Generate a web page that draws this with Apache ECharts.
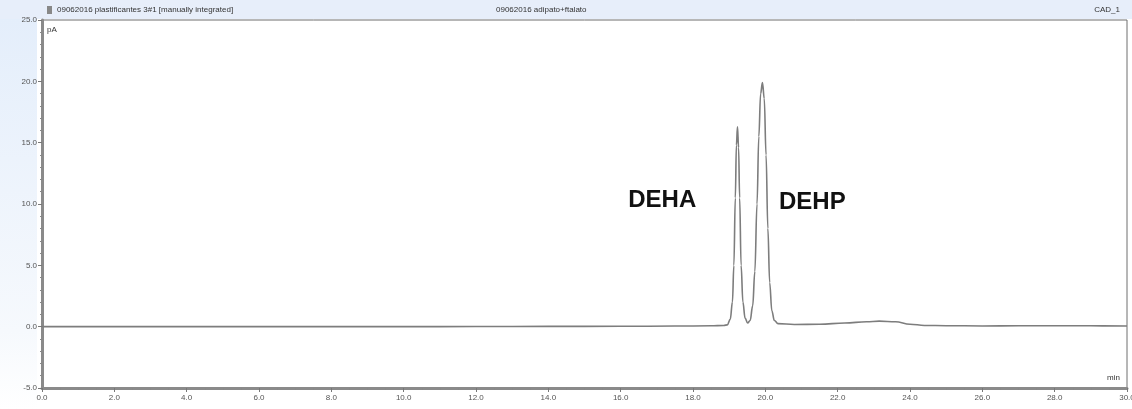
<!DOCTYPE html>
<html>
<head>
<meta charset="utf-8">
<script src="https://cdn.jsdelivr.net/npm/echarts@6/dist/echarts.min.js"></script>
<style>
html,body{margin:0;padding:0;background:#fff;}
#c{width:1132px;height:409px;}
</style>
</head>
<body>
<div id="c"></div>
<script>
// retention time (min)
var times = [0, 2, 4, 6, 8, 10, 12, 14, 16, 17.5, 18.5, 18.85, 18.95, 19.03, 19.09, 19.13, 19.17, 19.20, 19.23, 19.26, 19.29, 19.33, 19.38, 19.44, 19.51, 19.58, 19.65, 19.71, 19.77, 19.82, 19.87, 19.92, 19.97, 20.02, 20.07, 20.12, 20.18, 20.25, 20.35, 20.8, 21.5, 22.2, 22.8, 23.15, 23.6, 24.0, 24.4, 25, 26, 27, 28, 29, 30];
// signal (pA)
var signal = [0.0, 0.0, 0.0, 0.0, 0.0, 0.0, 0.01, 0.02, 0.03, 0.05, 0.07, 0.1, 0.15, 0.6, 2.0, 5.0, 10.5, 14.8, 16.3, 14.6, 10.5, 5.0, 2.0, 0.7, 0.3, 0.5, 1.7, 4.5, 10.0, 15.5, 19.0, 19.9, 18.6, 14.0, 8.0, 3.6, 1.3, 0.5, 0.25, 0.18, 0.2, 0.3, 0.4, 0.45, 0.4, 0.2, 0.1, 0.08, 0.06, 0.07, 0.08, 0.07, 0.05];
var peakNames = ['DEHA', 'DEHP'];
var peakLabelPos = [[17.15, 10.3], [21.3, 10.1]];
var headerLeft = '09062016 plastificantes 3#1 [manually integrated]';
var headerMid = '09062016 adipato+ftalato';
var headerRight = 'CAD_1';
var yUnit = 'pA';
var xUnit = 'min';

var data = times.map(function (t, i) { return [t, signal[i]]; });
var chart = echarts.init(document.getElementById('c'), null, {renderer: 'canvas'});
chart.setOption({
  animation: false,
  backgroundColor: '#fff',
  grid: {left: 42, right: 5, top: 20, bottom: 21, outerBoundsMode: 'none', containLabel: false, show: true, borderColor: '#6f6f6f', borderWidth: 1, backgroundColor: 'transparent'},
  graphic: [
    {type: 'rect', z: -10, shape: {x: 0, y: 0, width: 1132, height: 19}, style: {fill: '#e7eefa'}},
    {type: 'rect', z: -10, shape: {x: 0, y: 19, width: 37, height: 390},
      style: {fill: new echarts.graphic.LinearGradient(0, 0, 0, 1, [{offset: 0, color: '#e4eefb'}, {offset: 0.8, color: '#f6f9fd'}, {offset: 1, color: '#ffffff'}])}},
    {type: 'text', left: 57, top: 6, style: {text: headerLeft, fontSize: 8, fill: '#333', fontFamily: 'Liberation Sans'}},
    {type: 'rect', left: 47, top: 6, shape: {width: 5, height: 8}, style: {fill: '#888'}},
    {type: 'text', left: 496, top: 6, style: {text: headerMid, fontSize: 8, fill: '#333', fontFamily: 'Liberation Sans'}},
    {type: 'text', right: 12, top: 6, style: {text: headerRight, fontSize: 8, fill: '#333', fontFamily: 'Liberation Sans'}},
    {type: 'text', left: 47, top: 26, style: {text: yUnit, fontSize: 8, fill: '#333', fontFamily: 'Liberation Sans'}},
    {type: 'text', right: 12, top: 374, style: {text: xUnit, fontSize: 8, fill: '#333', fontFamily: 'Liberation Sans'}}
  ],
  xAxis: {
    type: 'value', min: 0, max: 30, interval: 2,
    axisLine: {show: true, onZero: false, lineStyle: {color: '#8a8a8a', width: 3}},
    axisTick: {show: true, length: 4, lineStyle: {color: '#777'}},
    minorTick: {show: true, splitNumber: 4, length: 2, lineStyle: {color: '#888'}},
    splitLine: {show: false},
    axisLabel: {fontSize: 8, color: '#555', margin: 6, fontFamily: 'Liberation Sans', formatter: function (v) { return v.toFixed(1); }}
  },
  yAxis: {
    type: 'value', min: -5, max: 25, interval: 5,
    axisLine: {show: true, onZero: false, lineStyle: {color: '#8a8a8a', width: 3}},
    axisTick: {show: true, length: 4, lineStyle: {color: '#777'}},
    minorTick: {show: true, splitNumber: 5, length: 2, lineStyle: {color: '#888'}},
    splitLine: {show: false},
    axisLabel: {fontSize: 8, color: '#555', margin: 5, fontFamily: 'Liberation Sans', formatter: function (v) { return v.toFixed(1); }}
  },
  series: [{
    type: 'line',
    data: data,
    showSymbol: false,
    smooth: 0.4,
    smoothMonotone: 'x',
    lineStyle: {color: '#7d7d7d', width: 1.6},
    markPoint: {
      symbol: 'circle', symbolSize: 0,
      label: {show: true, position: 'inside', formatter: '{b}', fontSize: 24, fontWeight: 'bold', color: '#111', fontFamily: 'Liberation Sans'},
      data: peakNames.map(function (n, i) { return {name: n, coord: peakLabelPos[i]}; })
    }
  }]
});
</script>
</body>
</html>
